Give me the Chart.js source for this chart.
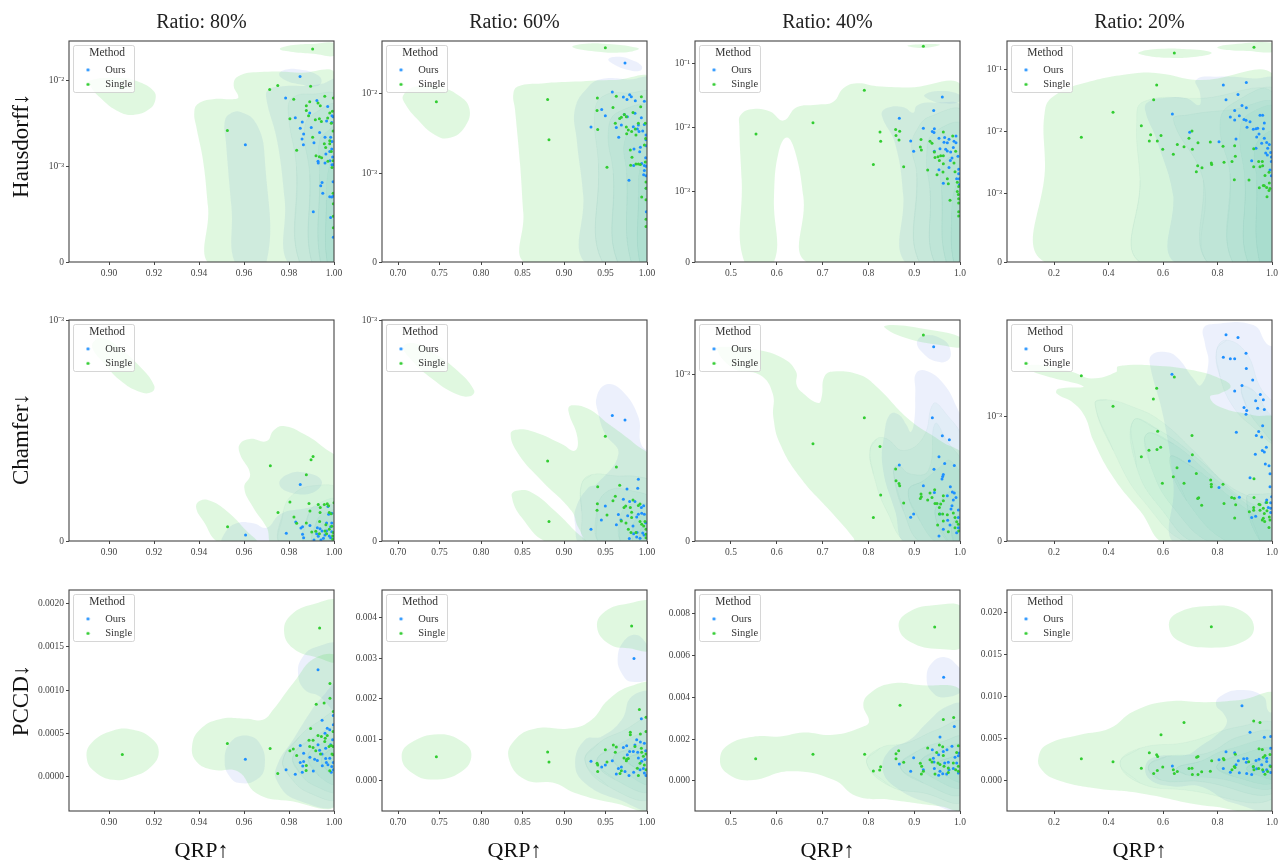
<!DOCTYPE html>
<html><head><meta charset="utf-8">
<style>html,body{margin:0;padding:0;background:#fff;overflow:hidden}canvas{position:absolute}</style>
<script src="https://cdn.jsdelivr.net/npm/chart.js@4"></script>
</head><body>
<script>
// All y values below are in units of 1e-3; x values are QRP.
const colTitles=["Ratio: 80%","Ratio: 60%","Ratio: 40%","Ratio: 20%"];
const rowTitles=["  Hausdorff↓","Chamfer↓   ","PCCD↓"];
const xLimits=[[.8822,1],[.6807,1],[.4214,1],[.0275,1]];
const xTicks=[[.9,.92,.94,.96,.98,1],[.7,.75,.8,.85,.9,.95,1],[.5,.6,.7,.8,.9,1],[.2,.4,.6,.8,1]];
const xDigits=[2,2,1,1];
const yLimits=[
 [[0,.029],[0,.0447],[0,.224],[0,.295]],
 [[0,.001],[0,.001],[0,.00229],[0,.00733]],
 [[-.0004,.00216],[-.00075,.00467],[-.00143,.0091],[-.0036,.02274]]];
const yTicks=[
 [[0,.001,.01],[0,.001,.01],[0,.001,.01,.1],[0,.001,.01,.1]],
 [[0,.001],[0,.001],[0,.001],[0,.001]],
 [[0,.0005,.001,.0015,.002],[0,.001,.002,.003,.004],[0,.002,.004,.006,.008],[0,.005,.01,.015,.02]]];
const yDigits=[4,3,3,3];

const ours_r1c1=[[.9849,11.2],[.9785,6.3],[.9828,3.7],[.9892,4.2],[.9924,5.9],[.9972,5],[.9991,3.9],[.9996,3.8],[.9859,3.3],[.985,2.8],[.9899,2.85],[.9936,2.5],[.9865,2.4],[.9858,2.1],[.9864,1.8],[.996,2.2],[.9985,2.2],[.9911,1.9],[.9991,1.96],[.9606,1.79],[.9964,1.4],[.9981,1.5],[.999,1.6],[.9994,1.29],[.9929,1.15],[.993,1.1],[.996,1.1],[.9982,1.17],[.9991,1.05],[.9997,1.05],[.9947,.834],[.9941,.8],[.9996,.84],[.995,.72],[.9981,.685],[.999,.68],[.9997,.69],[.9908,.526],[.9985,.467],[.9997,.26],[.999,3.26],[.9967,3.4]];
const single_r1c1=[[.9905,23.4],[.9896,8.6],[.9714,7.9],[.975,8.8],[.9959,6.6],[.9821,6.1],[.9892,5.7],[.9929,5.5],[.9877,5.1],[.9939,5.1],[.9997,6.3],[.9877,4.5],[.9993,4.4],[.9981,4.2],[.9887,3.9],[.9804,3.6],[.9917,3.5],[.9935,3.6],[.9944,3.35],[.9972,3.67],[.9988,3.2],[.9996,2.6],[.9526,2.63],[.9905,2.2],[.9981,2],[.9957,1.85],[.9981,1.84],[.9963,1.67],[.9834,1.55],[.992,1.34],[.9935,1.3],[.9945,1.27],[.9988,1.5],[.9996,1.17],[.9973,1.15],[.9991,.99],[.9996,.72],[.9997,.48],[.9997,.36],[.9997,.61],[.9059,8.4]];
const ours_r1c2=[[.9735,23.7],[.9582,10.3],[.9791,9.5],[.9715,8.9],[.9811,9],[.9759,8.3],[.9859,8],[.9968,7.9],[.9454,6.25],[.9498,5.2],[.9763,5.06],[.9932,4.9],[.9727,5.4],[.9855,5.6],[.9325,3.76],[.963,3.7],[.9691,4],[.9835,3.8],[.9896,4],[.9968,4.06],[.9884,3.55],[.9948,3.35],[.9904,3.3],[.9659,2.8],[.9988,3],[.9988,2.6],[.9988,2.2],[.992,2.1],[.9843,2],[.9912,1.85],[.9984,1.55],[.9936,1.32],[.9968,1.24],[.9839,1.24],[.9988,1.22],[.9968,1.08],[.996,.98],[.9988,.97],[.9783,.92],[.9992,.565],[.9992,.83]];
const single_r1c2=[[.9498,36.9],[.7462,7.8],[.8803,8.3],[.8819,2.6],[.9402,8.66],[.963,9.1],[.9932,9],[.9924,6.75],[.959,6.6],[.9398,6.07],[.9727,5.4],[.9691,5],[.9671,4.8],[.9751,5.06],[.9831,5.7],[.9618,4.2],[.9896,4.2],[.998,4.2],[.9406,3.5],[.9751,3.76],[.9859,3.55],[.9775,3.45],[.9815,3.3],[.9755,3.1],[.9867,3],[.9984,2.7],[.9968,2.25],[.9799,1.94],[.9819,1.58],[.9867,1.3],[.9896,1.3],[.992,1.28],[.9803,1.25],[.998,1.38],[.9518,1.18],[.9988,.9],[.9988,.83],[.9936,.73],[.9988,.7],[.9988,.48],[.9988,.4]];
const ours_r1c3=[[.9614,29.8],[.9425,18.2],[.8675,13.8],[.92,9.6],[.944,9.5],[.9396,8.6],[.9432,8.25],[.9913,7.3],[.9541,6.7],[.9665,6.9],[.976,6.5],[.9869,6],[.9651,5.8],[.9723,5.7],[.9913,5.7],[.8923,6.1],[.8988,4.2],[.9563,4.6],[.9687,4.5],[.9854,4.8],[.944,4.2],[.9796,4.1],[.9723,4.25],[.9956,3.5],[.9825,3.3],[.9789,3],[.976,2.34],[.9541,2.15],[.9971,2.2],[.9971,1.87],[.9927,1.56],[.9985,1.56],[.9636,1.33],[.9985,1.26]];
const single_r1c3=[[.92,186],[.7911,38],[.679,11.7],[.5546,7.8],[.8253,8.4],[.8595,9.2],[.8683,8.66],[.8603,7.4],[.8268,6],[.8668,6.3],[.9636,8.4],[.984,7.3],[.9148,6.4],[.9345,6],[.9389,5.6],[.9134,4.9],[.9156,4.4],[.944,4.1],[.9905,4.2],[.9454,3.36],[.952,3.45],[.9578,3.56],[.9636,3.56],[.9549,3],[.877,2.4],[.8108,2.6],[.9636,2.67],[.9869,2.75],[.9294,2.13],[.9629,1.98],[.9498,1.8],[.9891,2],[.9723,1.56],[.9745,1.3],[.9942,1.37],[.9971,1.18],[.9942,.995],[.9964,.95],[.9782,.87],[.9971,.89],[.9971,.83],[.9971,.71],[.9971,.65]];
const ours_r1c4=[[.9058,63],[.8214,57],[.8752,40],[.8312,33],[.8899,26.7],[.9058,24.5],[.863,22],[.6343,19.3],[.8471,17.3],[.863,15.5],[.8801,18.2],[.8972,15.8],[.9046,15.3],[.9193,14.5],[.956,18.4],[.9657,18.4],[.9719,13.8],[.9083,11.8],[.9315,11],[.9413,11.2],[.9474,11.4],[.9682,11.2],[.6979,9.8],[.9523,9.2],[.9437,8.2],[.9719,7.8],[.8679,7.6],[.8055,6.9],[.9621,6.5],[.9804,6.7],[.9902,6.2],[.9413,5.4],[.9841,5.4],[.9768,4.5],[.9951,4.6],[.9829,4.2],[.9254,3.4],[.9976,3.9],[.9976,3.3],[.9927,2.4],[.9976,1.93]];
const single_r1c4=[[.9339,233],[.6416,189],[.5768,57],[.5658,33],[.4165,20.6],[.5205,12.5],[.3003,8.1],[.7064,10.3],[.5547,8.9],[.5927,8.7],[.5498,7.1],[.5792,7.1],[.6954,7.8],[.7284,6.6],[.7737,6.8],[.6526,6.2],[.6771,5.7],[.7078,5.2],[.599,5.2],[.8202,5.8],[.863,5.9],[.6379,4.3],[.8654,4],[.9328,5.3],[.9511,3.3],[.9645,3.3],[.7774,3.1],[.7786,2.95],[.8239,3.2],[.8532,3.3],[.7272,2.8],[.7431,2.6],[.7223,2.25],[.9328,2.7],[.956,2.7],[.9657,2.8],[.9743,1.96],[.989,2.2],[.8618,1.67],[.9156,1.65],[.9902,1.47],[.9682,1.35],[.9535,1.24],[.9719,1.33],[.9804,1.25],[.989,1.12],[.9927,1.2],[.9817,.95]];

const ours_r2c1=[[.985,.256],[.9973,.156],[.999,.126],[.9976,.121],[.983,.086],[.9893,.07],[.986,.064],[.9853,.059],[.986,.03],[.9865,.015],[.9788,.035],[.9607,.027],[.9926,.06],[.9938,.055],[.9923,.033],[.993,.021],[.9911,.005],[.9942,.005],[.996,.027],[.9967,.082],[.999,.082],[.9985,.064],[.9947,.045],[.9967,.045],[.999,.042],[.9979,.023],[.9997,.009],[.9985,.015],[.9953,.012]];
const single_r2c1=[[.9907,.382],[.9898,.368],[.9717,.341],[.9877,.3],[.9804,.176],[.9889,.17],[.993,.165],[.9957,.165],[.997,.168],[.9939,.152],[.9976,.159],[1,.173],[.9893,.136],[.9751,.129],[.9938,.129],[.9979,.129],[.9987,.123],[.9822,.109],[.9936,.088],[.9877,.082],[.9834,.08],[.9527,.064],[.9964,.073],[.999,.067],[.9979,.053],[.9901,.041],[.9919,.044],[.9935,.033],[.996,.045],[.9997,.038],[.9994,.023],[.9994,.008],[.9967,.033]];
const ours_r2c2=[[.9582,.568],[.9735,.548],[.9896,.279],[.9888,.239],[.9759,.235],[.9715,.189],[.9791,.179],[.9855,.179],[.9498,.158],[.996,.159],[.9932,.152],[.9655,.12],[.9767,.114],[.9896,.121],[.9936,.126],[.9968,.121],[.945,.095],[.9687,.095],[.9876,.109],[.9631,.073],[.9831,.068],[.9325,.053],[.9984,.083],[.9839,.033],[.988,.039],[.9948,.036],[.9964,.027],[.9876,.018],[.9787,.011],[.9916,.012]];
const single_r2c2=[[.9498,.474],[.9631,.335],[.8803,.362],[.8819,.088],[.9406,.245],[.9671,.252],[.9618,.202],[.959,.182],[.9831,.186],[.9402,.168],[.9398,.139],[.9743,.158],[.9723,.152],[.9799,.152],[.9916,.167],[.9896,.161],[.9815,.13],[.9518,.118],[.9815,.106],[.9747,.082],[.9691,.091],[.9916,.088],[.9936,.076],[.9976,.088],[.9775,.053],[.9807,.038],[.9867,.038],[.9988,.053],[.9988,.03],[.996,.068],[.9988,.015]];
const ours_r2c3=[[.9425,1.52],[.9396,.738],[.9614,.63],[.9767,.606],[.9541,.504],[.9665,.464],[.9876,.452],[.8675,.456],[.9432,.43],[.9636,.398],[.9622,.386],[.9607,.371],[.92,.331],[.9789,.325],[.944,.291],[.9833,.293],[.9876,.287],[.9723,.271],[.9913,.261],[.9854,.245],[.9825,.211],[.9803,.191],[.9964,.185],[.9563,.161],[.8988,.161],[.8923,.143],[.9731,.124],[.9964,.141],[.9782,.096],[.9636,.07],[.9964,.08],[.9541,.03],[.9927,.05]];
const single_r2c3=[[.92,1.82],[.7911,.739],[.679,.582],[.8253,.566],[.8595,.432],[.8603,.361],[.8668,.345],[.8683,.331],[.8268,.275],[.877,.227],[.8108,.141],[.9447,.307],[.9345,.287],[.9148,.281],[.9156,.265],[.9134,.255],[.9294,.245],[.9389,.261],[.9636,.271],[.9636,.241],[.9454,.225],[.9498,.225],[.9578,.221],[.9549,.201],[.9854,.167],[.9549,.161],[.9622,.161],[.9723,.157],[.9636,.12],[.9512,.096],[.9891,.141],[.9964,.1],[.9745,.056],[.9891,.08],[.9971,.06],[.9927,.116]];
const ours_r2c4=[[.8312,5.4],[.8752,5.1],[.9046,3.7],[.8214,3.4],[.8471,3.3],[.863,3.3],[.9058,2.7],[.9291,2.13],[.633,2.4],[.8899,1.9],[.863,1.7],[.9572,1.58],[.94,1.39],[.9682,1.42],[.8973,1.21],[.9474,1.19],[.9719,1.16],[.907,1.14],[.9046,1.05],[.9657,.927],[.9511,.881],[.8691,.876],[.9425,.849],[.9621,.836],[.9792,.755],[.9645,.728],[.9719,.717],[.9388,.698],[.9755,.62],[.989,.606],[.6966,.644],[.9927,.542],[.9193,.509],[.9927,.437],[.8055,.431],[.9988,.356],[.8801,.353],[.9804,.329],[.9951,.307],[.978,.31],[.94,.199],[.9254,.189],[.9951,.264],[.9865,.27],[.9951,.229]];
const single_r2c4=[[.3003,2.32],[.6416,2.27],[.5768,1.8],[.5646,1.44],[.4165,1.24],[.5804,.884],[.7064,.849],[.5915,.755],[.578,.736],[.5486,.73],[.5205,.679],[.7077,.695],[.6514,.59],[.7223,.544],[.6379,.518],[.5976,.464],[.6771,.464],[.7749,.491],[.7774,.456],[.7774,.437],[.8202,.456],[.9339,.501],[.7309,.348],[.7272,.342],[.7419,.288],[.852,.35],[.8618,.345],[.9339,.35],[.8239,.302],[.8667,.291],[.9523,.296],[.956,.291],[.9327,.27],[.9327,.248],[.956,.248],[.9682,.264],[.9804,.31],[.9168,.235],[.9816,.243],[.9719,.221],[.863,.186],[.9682,.183],[.9645,.17],[.9731,.156],[.9902,.194],[.9927,.17],[.989,.108]];

const ours_r3c1=[[.9929,1.236],[.9997,.707],[.9947,.652],[.997,.56],[.9981,.54],[.996,.5],[.9997,.6],[.985,.36],[.9929,.367],[.9865,.27],[.9893,.224],[.985,.162],[.9865,.174],[.9861,.12],[.9787,.077],[.9828,.027],[.9859,.05],[.9908,.062],[.9606,.2],[.9914,.2],[.9926,.185],[.9963,.208],[.9981,.212],[.9947,.259],[.9936,.305],[.9963,.328],[.9985,.367],[.9948,.124],[.9966,.162],[.9973,.135],[.999,.116],[.9988,.05],[.9997,.077],[.9997,.162],[.9994,.425]];
const single_r3c1=[[.9936,1.72],[.9982,1.077],[.9982,.907],[.9956,.85],[.9921,.838],[.9997,.753],[.9896,.556],[.9929,.475],[.9944,.463],[.997,.475],[.9961,.444],[.9996,.52],[.9526,.382],[.9716,.324],[.9804,.297],[.9819,.317],[.9834,.243],[.9889,.42],[.9907,.42],[.9892,.347],[.9907,.336],[.9919,.297],[.994,.259],[.9959,.405],[.9978,.347],[.9988,.359],[.9996,.251],[.9059,.255],[.9877,.127],[.9876,.07],[.975,.035],[.9981,.066],[.9991,.259],[.9996,.347]];
const ours_r3c2=[[.9843,2.99],[.9932,1.51],[.9876,1],[.9968,.91],[.9715,.81],[.9755,.85],[.9855,.87],[.992,.94],[.9791,.71],[.9835,.71],[.9888,.69],[.9763,.63],[.9582,.48],[.9325,.47],[.9498,.38],[.9454,.33],[.9655,.29],[.9691,.33],[.963,.16],[.9735,.22],[.9783,.12],[.9839,.2],[.9916,.26],[.9956,.29],[.9968,.18],[.9988,.12],[.9976,.51],[.9936,.47],[.9984,.73],[.9896,.55]];
const single_r3c2=[[.9815,3.79],[.9908,1.74],[.9988,1.55],[.9988,1.2],[.9799,1.18],[.9799,1.12],[.992,1.14],[.8803,.7],[.8819,.45],[.7462,.58],[.9594,.87],[.963,.82],[.9498,.75],[.9618,.69],[.9855,.83],[.9932,.79],[.9398,.42],[.9406,.38],[.9518,.45],[.9406,.22],[.9691,.24],[.9675,.17],[.9723,.55],[.9755,.52],[.9775,.54],[.9751,.48],[.9936,.69],[.9988,.65],[.9916,.42],[.9884,.3],[.9896,.12],[.9968,.38],[.9988,.26],[.9956,.59]];
const ours_r3c3=[[.9643,4.94],[.9876,2.6],[.9563,2.09],[.9825,1.65],[.9716,1.49],[.9636,1.41],[.9396,1.49],[.9534,1.25],[.8988,1.11],[.9418,1.08],[.8675,.81],[.9432,.9],[.9665,.86],[.9745,.89],[.9891,1.13],[.9964,1.2],[.944,.6],[.8923,.46],[.92,.54],[.9563,.46],[.9534,.27],[.9622,.35],[.976,.54],[.9854,.59],[.9964,.38],[.9927,.86],[.9985,1.33],[.9709,.33]];
const single_r3c3=[[.9447,7.34],[.869,3.61],[.9636,2.93],[.9862,3.03],[.5539,1.06],[.679,1.27],[.7918,1.27],[.8661,1.44],[.8603,1.3],[.8603,1.06],[.877,.89],[.8268,.68],[.8246,.52],[.8108,.48],[.9294,1.57],[.9549,1.71],[.9622,1.63],[.9491,1.36],[.9345,1.01],[.9389,.9],[.9134,.84],[.9163,.7],[.92,.46],[.9156,.33],[.9454,.33],[.952,.86],[.9563,.78],[.9636,1.22],[.9651,.7],[.9745,.62],[.9745,.41],[.9854,.86],[.9927,1.36],[.9964,1.68],[.9964,.7],[.9964,.46],[.9905,.54]];
const ours_r3c4=[[.8899,8.93],[.9193,5.79],[.9719,5.2],[.9951,5.28],[.9951,3.89],[.8312,3.45],[.863,3.33],[.896,2.62],[.9083,2.66],[.8055,2.5],[.8765,2.38],[.9058,2.22],[.9413,2.42],[.9523,2.58],[.8679,1.9],[.6343,1.75],[.8214,1.47],[.9315,1.63],[.9437,1.43],[.9804,2.7],[.9621,1.9],[.9804,2.3],[.9927,1.79],[.8471,1.03],[.8801,.95],[.9071,.87],[.9254,.75],[.9682,1.11],[.9804,1.31],[.9951,.99]];
const single_r3c4=[[.7774,18.37],[.9328,7.14],[.956,6.94],[.6771,6.94],[.5927,5.48],[.3003,2.62],[.4165,2.26],[.5498,3.33],[.5768,3.1],[.5805,2.9],[.5205,1.51],[.599,1.63],[.5792,1.23],[.5658,.87],[.6379,1.31],[.6526,1.11],[.6416,.87],[.6954,1.47],[.7064,1.51],[.7078,.75],[.7284,.75],[.7419,1.07],[.7737,1.15],[.7235,2.82],[.7284,2.9],[.7786,2.38],[.8214,2.66],[.8239,2.5],[.8654,3.17],[.8618,1.71],[.8642,1.59],[.8532,1.31],[.9144,2.26],[.9315,1.71],[.9523,3.81],[.9645,3.73],[.9927,3.13],[.9743,3.02],[.9682,2.82],[.9339,1.31],[.9657,1.31],[.9841,1.11],[.9743,.79],[.9951,1.71],[.9511,1.47]];

// Density contours
const kdeSingle_r1c1=[
 [[.9759,23.4],[.9818,26],[.9907,26.8],[1.001,26.8],[1.001,19.8],[.9907,20.6],[.9818,21.6]],
 [[.8914,10],[.9047,10.8],[.9136,9.6],[.9196,7.7],[.9207,6.2],[.9181,4.7],[.9107,4],[.9033,4.5],[.8959,6.4],[.8921,8.4]],
 [[.9465,-.05],[.944,.58],[.9418,1.17],[.9388,2.9],[.9379,4.3],[.9396,5.4],[.9462,6.1],[.9551,6.1],[.9575,6.4],[.9554,8.8],[.9573,11.2],[.967,12.6],[.9847,12.4],[1.001,11.2],[1.002,-.08]]];
const kdeOurs_r1c1=[
 [[.9569,-.05],[.9544,.58],[.9519,2],[.9514,3.3],[.9536,4.1],[.9588,4.3],[.9655,3.15],[.9692,1.28],[.9695,-.05]],
 [[.9806,-.05],[.9781,.65],[.9747,2],[.9699,6.2],[.9708,7.85],[.9773,8.6],[.9884,8.75],[.9945,9.2],[1.001,10],[1.002,-.08]],
 [[.9756,11.9],[.9788,13.5],[.9847,13.5],[.9921,11.9],[.9945,10],[.9921,8.6],[.9847,9.1],[.9788,10]]];
const kdeInner_r1c1=[
 [[.9855,-.05],[.9833,1],[.9796,4.5],[.9818,6.4],[.9907,7],[1.001,6.4],[1.002,-.08]],
 [[.9907,-.05],[.9892,.92],[.987,2.9],[.9921,4.3],[1.001,5],[1.002,-.08]],
 [[.9944,-.05],[.9936,.92],[.9936,2],[.9973,2.6],[1.001,2.9],[1.002,-.08]],
 [[.9973,-.05],[.9966,.65],[.9981,1.07],[1.001,1.28],[1.002,-.08]]];

const kdeSingle_r1c2=[
 [[.91,38],[.9293,41.7],[.9534,41],[.9815,38],[.9904,35.5],[.9695,32],[.9333,33.5]],
 [[.7064,9.4],[.7205,12],[.7486,12],[.7727,9.4],[.786,6.4],[.7807,3.8],[.7627,2.76],[.7446,3],[.7225,4.8],[.7084,7.4]],
 [[.8558,-.02],[.851,.55],[.847,1.32],[.841,6.2],[.839,9.9],[.845,12.2],[.8731,13.2],[.9133,13.9],[.9614,14.6],[1.006,14],[1.006,-.05]]];
const kdeOurs_r1c2=[
 [[.9534,26.4],[.9655,28.4],[.9815,25.9],[.9936,21.8],[.9916,19],[.9775,19.4],[.9614,22.4]],
 [[.9265,-.02],[.9233,.73],[.9153,2.6],[.9133,6.4],[.9293,12],[.9454,15],[.9775,14.8],[1.006,14.2],[1.006,-.05]]];
const kdeInner_r1c2=[
 [[.9474,-.02],[.9414,1.32],[.9373,6.1],[.9494,9.4],[.9775,10],[1.006,9.4],[1.006,-.05]],
 [[.9655,-.02],[.9594,1],[.9534,3.4],[.9655,5.8],[1.006,6.1],[1.006,-.05]],
 [[.9815,-.02],[.9755,1],[.9735,2.6],[.9896,3.8],[1.006,4],[1.006,-.05]],
 [[.9916,-.02],[.9896,.73],[.9936,1.32],[1.006,1.6],[1.006,-.05]]];

const kdeSingle_r1c3=[
 [[.885,189],[.92,200],[.9563,195],[.92,174]],
 [[.5306,-.02],[.5233,1.5],[.5182,10.2],[.5211,15.6],[.5488,19.3],[.5852,17.6],[.6143,12.7],[.6434,20.5],[.687,22.4],[.7234,25],[.7453,40.6],[.7744,48.7],[.8181,44],[.8836,42],[1.007,39],[1.007,-.05],[.671,-.02],[.658,.92],[.6397,4.2],[.6215,6.9],[.6033,3.9],[.5939,.92],[.5924,-.02]]];
const kdeOurs_r1c3=[
 [[.8821,-.02],[.8763,.92],[.8581,5.6],[.829,15.6],[.8399,20],[.8763,20.6],[.8981,16.9],[.9054,21.6],[.9345,24.3],[1.007,18.7],[1.007,-.05]],
 [[.9221,32],[.9563,37],[1,32],[.9985,25],[.9636,23.7],[.9345,26.7]]];
const kdeInner_r1c3=[
 [[.9127,-.02],[.9054,1.9],[.8945,5],[.9054,9],[.9345,14.7],[1.007,16.5],[1.007,-.05]],
 [[.9454,-.02],[.9345,1.02],[.9272,3.5],[.9418,8],[1.007,10.2],[1.007,-.05]],
 [[.9709,-.02],[.96,1.02],[.96,2.4],[.9854,3.7],[1.007,4.2],[1.007,-.05]],
 [[.9869,-.02],[.9818,.69],[.9927,1.33],[1.007,1.5],[1.007,-.05]]];

const kdeSingle_r1c4=[
 [[.5095,190],[.5768,219],[.6991,216],[.7786,190],[.7235,164],[.6135,158],[.54,170]],
 [[.7994,233],[.8581,261],[1.017,270],[1.017,200],[.907,204],[.8336,210]],
 [[.1756,-.02],[.167,3.06],[.167,22.5],[.2037,39],[.3076,61],[.4911,88],[.589,88],[.7235,69],[1.017,69],[1.017,-.05]]];
const kdeOurs_r1c4=[
 [[.6477,-.02],[.6379,.95],[.5768,7.3],[.534,22.4],[.5462,30.6],[.6135,35.6],[.6869,34.7],[.7321,27],[.7358,41.8],[.7211,69],[.797,78],[.9315,73],[1.017,65],[1.017,-.05]]];
const kdeInner_r1c4=[
 [[.5217,-.02],[.5156,1.64],[.5034,13.6],[.5278,30.6],[.7358,34.7],[1.017,34.7],[1.017,-.05]],
 [[.7664,-.02],[.748,1.64],[.6379,15.5],[.6869,18.6],[.8459,22.5],[1.017,25],[1.017,-.05]],
 [[.8581,-.02],[.8459,2.1],[.8092,12],[.8459,27],[1.017,42],[1.017,-.05]],
 [[.9132,-.02],[.9009,1.64],[.8826,10.6],[.9193,20],[1.017,22.5],[1.017,-.05]],
 [[.956,-.02],[.9437,1.64],[.9437,6.5],[1.017,9.4],[1.017,-.05]]];

const kdeSingle_r2c1=[
 [[.893,.9],[.8973,.917],[.9049,.871],[.9138,.788],[.92,.705],[.919,.674],[.9138,.674],[.9049,.727],[.8973,.81],[.893,.864]],
 [[.9387,.152],[.9404,.182],[.9449,.182],[.9523,.136],[.9612,.045],[.9656,-.008],[.9493,-.008],[.9419,.091]],
 [[.9582,.439],[.9627,.462],[.9701,.452],[.9731,.5],[.9775,.52],[.9864,.485],[.9953,.424],[1.002,.356],[1.002,-.015],[.973,-.015],[.9701,.061],[.9641,.152],[.9601,.242],[.9627,.303],[.9582,.394]]];
const kdeOurs_r2c1=[
 [[.9516,.038],[.9567,.08],[.9641,.08],[.9701,.06],[.976,.121],[.9849,.144],[1.002,.152],[1.002,-.015],[.9508,-.015]],
 [[.9757,.258],[.979,.3],[.9864,.311],[.9945,.273],[.9908,.22],[.9804,.22]]];
const kdeInner_r2c1=[
 [[.9767,-.015],[.9775,.136],[.9819,.212],[.9908,.25],[1.002,.227],[1.002,-.015]],
 [[.9871,-.015],[.9886,.121],[.9938,.174],[1.002,.182],[1.002,-.015]],
 [[.9908,-.015],[.9923,.091],[.9967,.129],[1.002,.136],[1.002,-.015]],
 [[.996,-.015],[.996,.053],[.999,.083],[1.002,.091],[1.002,-.015]]];

const kdeSingle_r2c2=[
 [[.7064,.879],[.7205,.894],[.7406,.856],[.7687,.78],[.7916,.682],[.7867,.655],[.7687,.667],[.7406,.735],[.7165,.818]],
 [[.8369,.205],[.843,.227],[.861,.22],[.8892,.136],[.9133,.045],[.9261,-.008],[.8811,-.008],[.849,.106]],
 [[.8357,.485],[.845,.505],[.8651,.492],[.8972,.439],[.9133,.409],[.9161,.47],[.9052,.591],[.9092,.614],[.9293,.598],[.9534,.53],[.9855,.439],[1.006,.364],[1.006,-.015],[.9333,-.015],[.9173,.061],[.9092,.136],[.8731,.273],[.845,.394]]];
const kdeOurs_r2c2=[
 [[.9394,.652],[.9514,.709],[.9695,.682],[.9896,.561],[.9928,.439],[1.006,.379],[1.006,-.015],[.9213,-.015],[.9133,.076],[.9145,.152],[.9293,.242],[.9394,.258],[.9655,.394],[.9494,.485],[.9414,.576]]];
const kdeInner_r2c2=[
 [[.9213,.258],[.9333,.3],[.9614,.295],[.9936,.288],[1.006,.258],[1.006,-.015],[.9293,-.015],[.9213,.136]],
 [[.9454,-.015],[.9394,.136],[.9534,.227],[.9815,.227],[1.006,.182],[1.006,-.015]],
 [[.9715,-.015],[.9675,.106],[.9815,.167],[1.006,.144],[1.006,-.015]],
 [[.9855,-.015],[.9835,.076],[.9936,.114],[1.006,.106],[1.006,-.015]],
 [[.9936,-.015],[.9916,.045],[.9996,.076],[1.006,.076],[1.006,-.015]]];

const kdeSingle_r2c3=[
 [[.8348,2.05],[.8544,2.12],[.92,2],[1.007,1.73],[1.007,1.52],[.9563,1.56],[.8836,1.73]],
 [[.4687,1.46],[.4833,1.52],[.556,1.45],[.6143,1.27],[.6419,1.04],[.6434,.934],[.6579,.884],[.6907,.827],[.6979,.863],[.7038,.984],[.7234,1.04],[.7817,.994],[.818,.924],[.8908,.723],[.9563,.602],[1.0146,.482],[1.0146,-.02],[.7744,-.02],[.7671,.02],[.7162,.181],[.6507,.382],[.607,.582],[.5924,.743],[.591,.884],[.5633,.994],[.5051,1.09]]];
const kdeOurs_r2c3=[
 [[.9061,1.64],[.9272,1.82],[.9636,1.69],[.9789,1.45],[.9745,1.24],[.9491,1.21],[.92,1.37]],
 [[.9039,1.01],[.9272,1.05],[.9636,.944],[.9927,.803],[1.0073,.683],[1.0073,-.02],[.8836,-.02],[.8581,.181],[.8311,.442],[.8348,.643],[.8472,.759],[.8654,.759],[.8836,.693],[.8923,.653],[.9003,.723],[.9025,.9]]];
const kdeInner_r2c3=[
 [[.8035,.542],[.8181,.612],[.8399,.612],[.8763,.542],[.92,.622],[.9418,.823],[.9636,.783],[1.0073,.582],[1.0073,-.02],[.8908,-.02],[.8399,.181],[.8108,.402]],
 [[.8544,.422],[.8654,.452],[.8908,.402],[.9309,.422],[.9454,.703],[.9709,.602],[1.0073,.442],[1.0073,-.02],[.92,-.02],[.8763,.181]],
 [[.8872,.301],[.92,.361],[.9563,.442],[.9782,.482],[1.0073,.341],[1.0073,-.02],[.9563,-.02],[.9127,.12]],
 [[.9454,.161],[.9636,.261],[.9854,.301],[1.0073,.261],[1.0073,-.02],[.9782,-.02]],
 [[.9818,.08],[.9927,.141],[1.0073,.161],[1.0073,-.02],[.9891,-.02]]];

const kdeSingle_r2c4=[
 [[.4361,2.83],[.589,2.85],[.7113,2.6],[.8092,2.2],[.8483,1.87],[.8092,1.61],[.7725,1.5],[.8092,1.22],[.9315,1.03],[1.0171,.965],[1.0171,-.03],[.6196,-.03],[.5156,.243],[.4178,.512],[.3443,.809],[.3138,1],[.271,1.33],[.2098,1.61],[.2159,1.78],[.3076,1.87],[.1609,2.35],[.0912,2.79],[.1487,2.9],[.271,2.5],[.3383,2.2],[.43,2.52]]];
const kdeOurs_r2c4=[
 [[.748,6.17],[.7847,6.75],[.9315,6.6],[.9804,4.5],[1.0171,3.94],[1.0171,-.03],[.6502,-.03],[.6379,.458],[.6012,1],[.5523,2.9],[.5584,3.56],[.6012,3.81],[.6502,3.43],[.7113,2.2],[.7382,1.91],[.7664,2.99],[.7541,4.5]]];
const kdeInner_r2c4=[
 [[.3505,1.31],[.3933,1.42],[.4911,1.22],[.589,.97],[.7113,.728],[.8336,.458],[1.0171,.216],[1.0171,-.03],[.7113,-.03],[.5278,.323],[.4178,.728]],
 [[.4911,.97],[.589,.889],[.7358,.647],[.8703,.377],[1.0171,.162],[1.0171,-.03],[.7358,-.03],[.589,.27],[.5033,.593]],
 [[.5401,.862],[.6379,.782],[.7847,.512],[.907,.296],[1.0171,.108],[1.0171,-.03],[.797,-.03],[.6379,.27],[.5523,.62]],
 [[.6257,.674],[.7113,.593],[.8336,.377],[1.0171,.054],[1.0171,-.03],[.8581,-.03],[.6869,.323]],
 [[.797,3.94],[.8336,4.85],[.907,3.68],[.956,1.85],[1.0171,1.14],[1.0171,.782],[.9315,.916],[.8581,1.22],[.8092,2.27]],
 [[.8887,1.85],[.9315,1.72],[.9804,1.14],[1.0171,.943],[1.0171,.782],[.956,.916],[.907,1.22]],
 [[.907,.35],[.956,.377],[1.0171,.35],[1.0171,-.03],[.956,0]]];

const kdeSingle_r3c1=[
 [[.8901,.212],[.8921,.386],[.9018,.533],[.9107,.541],[.9188,.444],[.9221,.29],[.9188,.116],[.9107,0],[.9018,-.039],[.8936,.058]],
 [[.9778,1.68],[.981,1.873],[.9907,1.996],[1.002,2.015],[1.002,1.351],[.9921,1.382],[.9818,1.486]],
 [[.9369,.347],[.9403,.541],[.9492,.664],[.961,.668],[.9684,.656],[.9729,.772],[.9818,1.081],[.9921,1.382],[1.002,1.351],[1.002,-.29],[.9788,-.278],[.9655,-.193],[.9573,.058],[.9462,.077],[.9388,.174]]];
const kdeOurs_r3c1=[
 [[.9514,.174],[.9536,.386],[.9603,.475],[.967,.386],[.9692,.116],[.9655,-.039],[.9581,-.077],[.9536,0]],
 [[.984,1.197],[.9862,1.39],[.9921,1.5],[1.002,1.514],[1.002,.734],[.9936,.927],[.987,1.004]],
 [[.9751,.154],[.9818,.425],[.9892,.734],[.9936,.888],[1.002,1.081],[1.002,-.29],[.9833,-.27],[.9744,-.039]]];
const kdeInner_r3c1=[
 [[.9773,.193],[.9847,.463],[.9921,.618],[1.002,.734],[1.002,-.23],[.9892,-.193],[.9803,0]],
 [[.9818,.232],[.9892,.425],[1.002,.54],[1.002,-.154],[.9921,-.116],[.9847,.039]],
 [[.9884,.232],[.9936,.367],[1.002,.425],[1.002,-.077],[.9936,0]],
 [[.9944,.193],[.9981,.309],[1.002,.328],[1.002,0],[.9973,.058]]];

const kdeSingle_r3c2=[
 [[.9398,3.77],[.9494,4.14],[.9775,4.34],[1.0056,4.34],[1.0056,3.24],[.9775,3.24],[.9534,3.36]],
 [[.7044,.59],[.7145,.91],[.7486,1.13],[.7767,.96],[.7884,.63],[.7767,.22],[.7426,.02],[.7145,.22]],
 [[.8333,.55],[.841,1],[.8651,1.27],[.9092,1.28],[.9333,1.49],[.9534,1.98],[.9815,2.32],[1.0056,2.32],[1.0056,-.64],[.9614,-.56],[.9133,-.31],[.8892,-.07],[.853,.02]]];
const kdeOurs_r3c2=[
 [[.9647,3],[.9715,3.4],[.9855,3.57],[.9976,3.4],[1.0056,3.04],[1.0056,2.55],[.9815,2.42],[.9695,2.63]],
 [[.9133,.42],[.9253,1],[.9454,1.08],[.9695,1.49],[.9815,2.06],[1.0056,2.1],[1.0056,-.64],[.9655,-.47],[.9253,-.07]]];
const kdeInner_r3c2=[
 [[.9253,.47],[.9414,.91],[.9695,1.2],[1.0056,1.49],[1.0056,-.39],[.9534,-.15]],
 [[.9394,.47],[.9614,.83],[1.0056,1.12],[1.0056,-.23],[.9614,.02]],
 [[.9594,.55],[.9815,.79],[1.0056,.87],[1.0056,-.07],[.9775,.14]],
 [[.9755,.51],[.9936,.67],[1.0056,.67],[1.0056,.1],[.9896,.26]]];

const kdeSingle_r3c3=[
 [[.8661,7.35],[.8836,7.99],[.9418,8.37],[1.0073,8.22],[1.0073,6.48],[.9563,6.29],[.8908,6.64]],
 [[.476,1.06],[.4942,1.73],[.5488,2.11],[.607,2.12],[.6579,2.31],[.7234,2.2],[.7889,2.6],[.8013,2.84],[.7889,3.63],[.8035,4.18],[.8472,4.63],[.9054,4.58],[1.0073,4.1],[1.0073,-1.28],[.9563,-1.2],[.8472,-.89],[.7744,-.73],[.7234,.06],[.6288,.46],[.5415,.03],[.4906,.38]]];
const kdeOurs_r3c3=[
 [[.9272,4.9],[.9381,5.61],[.9672,5.9],[.9964,5.45],[1.0073,4.98],[1.0073,4.34],[.9636,3.98],[.9381,4.26]],
 [[.8311,.54],[.8472,1.49],[.8908,1.97],[.9272,2.76],[.9709,3.55],[1.0073,3.58],[1.0073,-1.28],[.9345,-1.05],[.8617,-.33]]];
const kdeInner_r3c3=[
 [[.7962,.86],[.8253,1.57],[.8836,1.81],[.9491,2.44],[1.0073,2.76],[1.0073,-.89],[.92,-.57],[.8472,-.25]],
 [[.869,.7],[.9054,1.41],[.9636,1.89],[1.0073,2.04],[1.0073,-.57],[.92,-.1]],
 [[.9127,.86],[.9563,1.49],[1.0073,1.65],[1.0073,-.25],[.9418,.14]],
 [[.9491,.78],[.9854,1.17],[1.0073,1.25],[1.0073,0],[.9709,.22]]];

const kdeSingle_r3c4=[
 [[.622,18.37],[.6502,19.96],[.7725,20.83],[.8826,20.36],[.9339,18.37],[.8948,16.59],[.7725,15.87],[.6624,16.59]],
 [[.1425,2.7],[.1731,4.29],[.2954,5.48],[.4055,6.27],[.4911,8.25],[.6135,9.44],[.7602,9.37],[.8826,9.64],[1.0171,10.04],[1.0171,-3.06],[.7847,-3.06],[.5156,-1.47],[.3443,-.87],[.2098,.12],[.1548,1.31]]];
const kdeOurs_r3c4=[
 [[.7945,9.05],[.8092,10.04],[.8826,10.83],[.9682,10.04],[.9878,8.25],[1.0171,8.06],[1.0171,-3.06],[.8581,-2.66],[.7358,-.67],[.6379,-.67],[.5523,.12],[.5364,1.9],[.5768,2.9],[.6869,3.1],[.7358,4.09],[.797,5.48],[.8336,6.87],[.8214,8.06]]];
const kdeInner_r3c4=[
 [[.4422,2.1],[.5156,3.89],[.6869,4.6],[.8826,6.47],[1.0171,6.47],[1.0171,-1.87],[.6746,-1.07],[.5156,-.28]],
 [[.5462,1.71],[.6135,2.9],[.7602,3.29],[.8826,5.28],[1.0171,5.48],[1.0171,-1.27],[.7358,-.08],[.589,.12]],
 [[.6502,1.51],[.7358,2.3],[.8336,3.69],[1.0171,4.48],[1.0171,-.67],[.797,.32],[.6869,.71]],
 [[.797,1.71],[.8826,3.1],[1.0171,3.69],[1.0171,-.08],[.8581,.52]],
 [[.907,1.51],[.9682,2.5],[1.0171,2.7],[1.0171,.32],[.9437,.71]]];

const oursGrid=[[ours_r1c1,ours_r1c2,ours_r1c3,ours_r1c4],[ours_r2c1,ours_r2c2,ours_r2c3,ours_r2c4],[ours_r3c1,ours_r3c2,ours_r3c3,ours_r3c4]];
const singleGrid=[[single_r1c1,single_r1c2,single_r1c3,single_r1c4],[single_r2c1,single_r2c2,single_r2c3,single_r2c4],[single_r3c1,single_r3c2,single_r3c3,single_r3c4]];
const kdeSingleGrid=[[kdeSingle_r1c1,kdeSingle_r1c2,kdeSingle_r1c3,kdeSingle_r1c4],[kdeSingle_r2c1,kdeSingle_r2c2,kdeSingle_r2c3,kdeSingle_r2c4],[kdeSingle_r3c1,kdeSingle_r3c2,kdeSingle_r3c3,kdeSingle_r3c4]];
const kdeOursGrid=[[kdeOurs_r1c1,kdeOurs_r1c2,kdeOurs_r1c3,kdeOurs_r1c4],[kdeOurs_r2c1,kdeOurs_r2c2,kdeOurs_r2c3,kdeOurs_r2c4],[kdeOurs_r3c1,kdeOurs_r3c2,kdeOurs_r3c3,kdeOurs_r3c4]];
const kdeInnerGrid=[[kdeInner_r1c1,kdeInner_r1c2,kdeInner_r1c3,kdeInner_r1c4],[kdeInner_r2c1,kdeInner_r2c2,kdeInner_r2c3,kdeInner_r2c4],[kdeInner_r3c1,kdeInner_r3c2,kdeInner_r3c3,kdeInner_r3c4]];

// --- rendering -------------------------------------------------------
const SERIF='"Liberation Serif", serif';
const OURS='#1e90ff', SINGLE='#32cd32', INK='#444';
const PANEL_W=265, PANEL_H=221, AXIS_W=60, AXIS_H=24, RIGHT=24;
const panelLeft=[69,382,695,1007], panelTop=[41,320,590];

// Symmetric-log axis (linear below 1e-3, one decade per log10 above it)
const LT=1e-3, LIN=1/0.9;
const symT=v=>{const a=Math.abs(v);const t=a<=LT?a/LT*LIN:LIN+Math.log10(a/LT);return v<0?-t:t;};
const symInv=t=>{const a=Math.abs(t);const v=a<=LIN?a/LIN*LT:LT*Math.pow(10,a-LIN);return t<0?-v:v;};
class SymlogScale extends Chart.LinearScale{
  getPixelForValue(v){return this.getPixelForDecimal((symT(v)-symT(this.min))/(symT(this.max)-symT(this.min)));}
  getValueForPixel(p){const d=this.getDecimalForPixel(p);return symInv(symT(this.min)+d*(symT(this.max)-symT(this.min)));}
}
SymlogScale.id='symlog';
SymlogScale.defaults=Chart.LinearScale.defaults;
Chart.register(SymlogScale);

const SUP={'-3':'10⁻³','-2':'10⁻²','-1':'10⁻¹'};
const dot=c=>{const k=document.createElement('canvas');k.width=k.height=5;const x=k.getContext('2d');x.fillStyle=c;x.beginPath();x.arc(2.5,2.5,1.6,0,7);x.fill();return k;};
const markers={Ours:dot(OURS),Single:dot(SINGLE)};
const toPts=a=>a.map(p=>({x:p[0],y:p[1]/1000}));
// Wrap the outline round its start so the spline closes smoothly.
const closed=a=>[a[a.length-1],...a,a[0],a[1]];
const shape=(a,fill,line,lw,order)=>({data:toPts(closed(a)),showLine:true,fill:'shape',backgroundColor:fill,borderColor:line,borderWidth:lw,pointRadius:0,pointHoverRadius:0,tension:.45,capBezierPoints:false,order});

const legendOnTop={id:'legendOnTop',
  beforeLayout(chart){
    const lg=chart.legend; if(!lg) return;
    lg._layers=()=>[{z:5,draw(area){
      const a=chart.chartArea,c=chart.ctx;
      c.save();c.beginPath();c.roundRect(a.left+4.5,a.top+4.5,61,47,2);
      c.fillStyle='rgba(255,255,255,.8)';c.fill();c.strokeStyle='rgba(204,204,204,.8)';c.lineWidth=1;c.stroke();c.restore();
      lg.left=a.left+3;lg.top=a.top+4.6;
      lg.columnSizes.forEach(s=>{if(s.full===undefined){s.full=s.width;}s.width=s.full-15;});
      lg.draw(area);
    }}];
  },
  afterDatasetsDraw(chart){
    const a=chart.chartArea,c=chart.ctx;
    c.save();c.strokeStyle=INK;c.lineWidth=1.1;c.strokeRect(a.left,a.top,a.width,a.height);c.restore();
  }};

for(let r=0;r<3;r++)for(let k=0;k<4;k++){
  const datasets=[];
  kdeOursGrid[r][k].forEach(a=>datasets.push(shape(a,'rgba(65,105,225,.1)','rgba(65,105,225,0)',0,40)));
  kdeSingleGrid[r][k].forEach(a=>datasets.push(shape(a,'rgba(50,205,50,.15)','rgba(50,205,50,0)',0,30)));
  kdeInnerGrid[r][k].forEach(a=>datasets.push(shape(a,'rgba(40,170,150,.05)','rgba(40,140,120,.08)',.5,20)));
  datasets.push({label:'Ours',data:toPts(oursGrid[r][k]),backgroundColor:OURS,borderWidth:0,pointRadius:1.5,order:2});
  datasets.push({label:'Single',data:toPts(singleGrid[r][k]),backgroundColor:SINGLE,borderWidth:0,pointRadius:1.5,order:1});

  const topH=r===0?33:8, botH=r===2?53:AXIS_H;
  const cv=document.createElement('canvas');
  const W=AXIS_W+PANEL_W+RIGHT, H=topH+PANEL_H+botH;
  cv.width=W;cv.height=H;
  cv.style.cssText=`left:${panelLeft[k]-AXIS_W}px;top:${panelTop[r]-topH}px;width:${W}px;height:${H}px`;
  document.body.appendChild(cv);
  const ydig=yDigits[k];
  new Chart(cv,{type:'scatter',data:{datasets},plugins:[legendOnTop],options:{
    responsive:false,animation:false,events:[],
    layout:{autoPadding:false,padding:{top:r===0?5:8,right:RIGHT,bottom:0,left:0}},
    plugins:{
      tooltip:{enabled:false},
      title:{display:r===0,fullSize:false,text:colTitles[k],color:'#222',font:{family:SERIF,size:20,weight:'normal',lineHeight:'20px'},padding:{top:0,bottom:8}},
      legend:{display:true,position:'chartArea',align:'start',
        title:{display:true,text:'Method',color:'#333',position:'center',font:{family:SERIF,size:11.5,lineHeight:'12.6px'},padding:1.2},
        labels:{usePointStyle:true,pointStyleWidth:24,boxHeight:5,padding:4,color:'#333',font:{family:SERIF,size:10.5,lineHeight:'12.6px'},
          generateLabels(ch){return Chart.defaults.plugins.legend.labels.generateLabels(ch).filter(l=>l.text).reverse().map(l=>Object.assign(l,{pointStyle:markers[l.text]}));}}}
    },
    scales:{
      x:{type:'linear',min:xLimits[k][0],max:xLimits[k][1],
        afterBuildTicks:s=>{s.ticks=xTicks[k].map(value=>({value}));},
        afterFit:s=>{s.height=botH;},
        grid:{drawOnChartArea:false,tickLength:3,color:INK,tickWidth:1},border:{display:false},
        ticks:{font:{family:SERIF,size:9.5},color:'#444',padding:3,maxRotation:0,autoSkip:false,callback:v=>v.toFixed(xDigits[k])},
        title:{display:r===2,text:'QRP↑',color:'#111',font:{family:SERIF,size:22,lineHeight:'26px'},padding:0}},
      y:{type:r===2?'linear':'symlog',min:yLimits[r][k][0],max:yLimits[r][k][1],
        afterBuildTicks:s=>{s.ticks=yTicks[r][k].map(value=>({value}));},
        afterFit:s=>{s.width=AXIS_W;},
        grid:{drawOnChartArea:false,tickLength:3,color:INK,tickWidth:1},border:{display:false},
        ticks:{font:{family:SERIF,size:9.5},color:'#444',padding:2,autoSkip:false,
          callback:v=>r===2?v.toFixed(ydig):(v===0?'0':SUP[String(Math.round(Math.log10(v)))])},
        title:{display:k===0,text:rowTitles[r],color:'#111',font:{family:SERIF,size:23,lineHeight:'26px'},padding:0}}
    }
  }});
}
</script>
</body></html>
